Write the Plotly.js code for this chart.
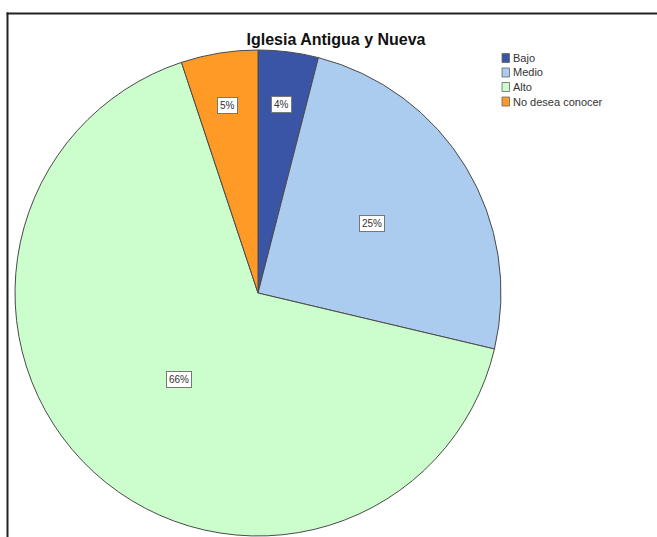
<!DOCTYPE html>
<html>
<head>
<meta charset="utf-8">
<script src="https://cdn.plot.ly/plotly-3.0.1.min.js"></script>
<style>html,body{margin:0;padding:0;background:#fff;}#chart{width:657px;height:537px;}</style>
</head>
<body>
<div id="chart"></div>
<script>
// Data
const categories = ["Bajo", "Medio", "Alto", "No desea conocer"];
const values = [4.0, 24.7, 66.2, 5.1];
const colors = ["#3a55a6", "#abcbef", "#ccfdcc", "#ff9a26"];

const W = 657, H = 537;
// pie geometry in pixels (domain)
const cx = 258, cy = 293, R = 243;
const px = x => x / W;
const py = y => 1 - y / H;
const FONT = "Liberation Sans, Arial, sans-serif";

const trace = {
  type: "pie",
  labels: categories,
  values: values,
  sort: false,
  direction: "clockwise",
  rotation: 0,
  marker: { colors: colors, line: { color: "#4a4a4a", width: 1 } },
  textinfo: "none",
  hoverinfo: "label+percent",
  domain: { x: [px(cx - R), px(cx + R)], y: [py(cy + R), py(cy - R)] },
  showlegend: false
};

const total = values.reduce((a, b) => a + b, 0);
const annotations = [];
let cum = 0;
values.forEach((v, i) => {
  const mid = (cum + v / 2) / total * 2 * Math.PI;
  cum += v;
  const rf = v < 10 ? 0.78 : (v < 50 ? 0.55 : 0.48);
  const x = cx + rf * R * Math.sin(mid);
  const y = cy - rf * R * Math.cos(mid);
  annotations.push({
    x: px(x), y: py(y), xref: "paper", yref: "paper",
    xanchor: "center", yanchor: "middle",
    text: Math.round(v / total * 100) + "%",
    showarrow: false,
    font: { family: FONT, size: 10, color: "#333" },
    bgcolor: "#ffffff", bordercolor: "#777", borderwidth: 1, borderpad: 2
  });
});

// custom compact legend
const shapes = [];
categories.forEach((c, i) => {
  const mid = 58 + i * 14.5;
  shapes.push({
    type: "rect", xref: "paper", yref: "paper",
    x0: px(502), x1: px(509.5), y0: py(mid + 4.5), y1: py(mid - 4.5),
    fillcolor: colors[i], line: { color: "#666", width: 0.8 }
  });
  annotations.push({
    x: px(511), y: py(mid), xref: "paper", yref: "paper",
    xanchor: "left", yanchor: "middle", showarrow: false,
    text: c, font: { family: FONT, size: 11, color: "#333" }
  });
});

// frame lines (top and left)
shapes.push({ type: "line", xref: "paper", yref: "paper", x0: px(6.5), x1: 1, y0: py(13.5), y1: py(13.5), line: { color: "#222", width: 2 } });
shapes.push({ type: "line", xref: "paper", yref: "paper", x0: px(7.5), x1: px(7.5), y0: py(12.5), y1: 0, line: { color: "#222", width: 2 } });

const layout = {
  width: W, height: H,
  margin: { l: 0, r: 0, t: 0, b: 0 },
  paper_bgcolor: "#ffffff",
  title: {
    text: "<b>Iglesia Antigua y Nueva</b>",
    x: px(336), xanchor: "center", y: py(39), yanchor: "middle",
    font: { family: FONT, size: 16, color: "#111" }
  },
  annotations: annotations,
  shapes: shapes,
  showlegend: false
};

Plotly.newPlot("chart", [trace], layout, { displayModeBar: false, staticPlot: true });
</script>
</body>
</html>
